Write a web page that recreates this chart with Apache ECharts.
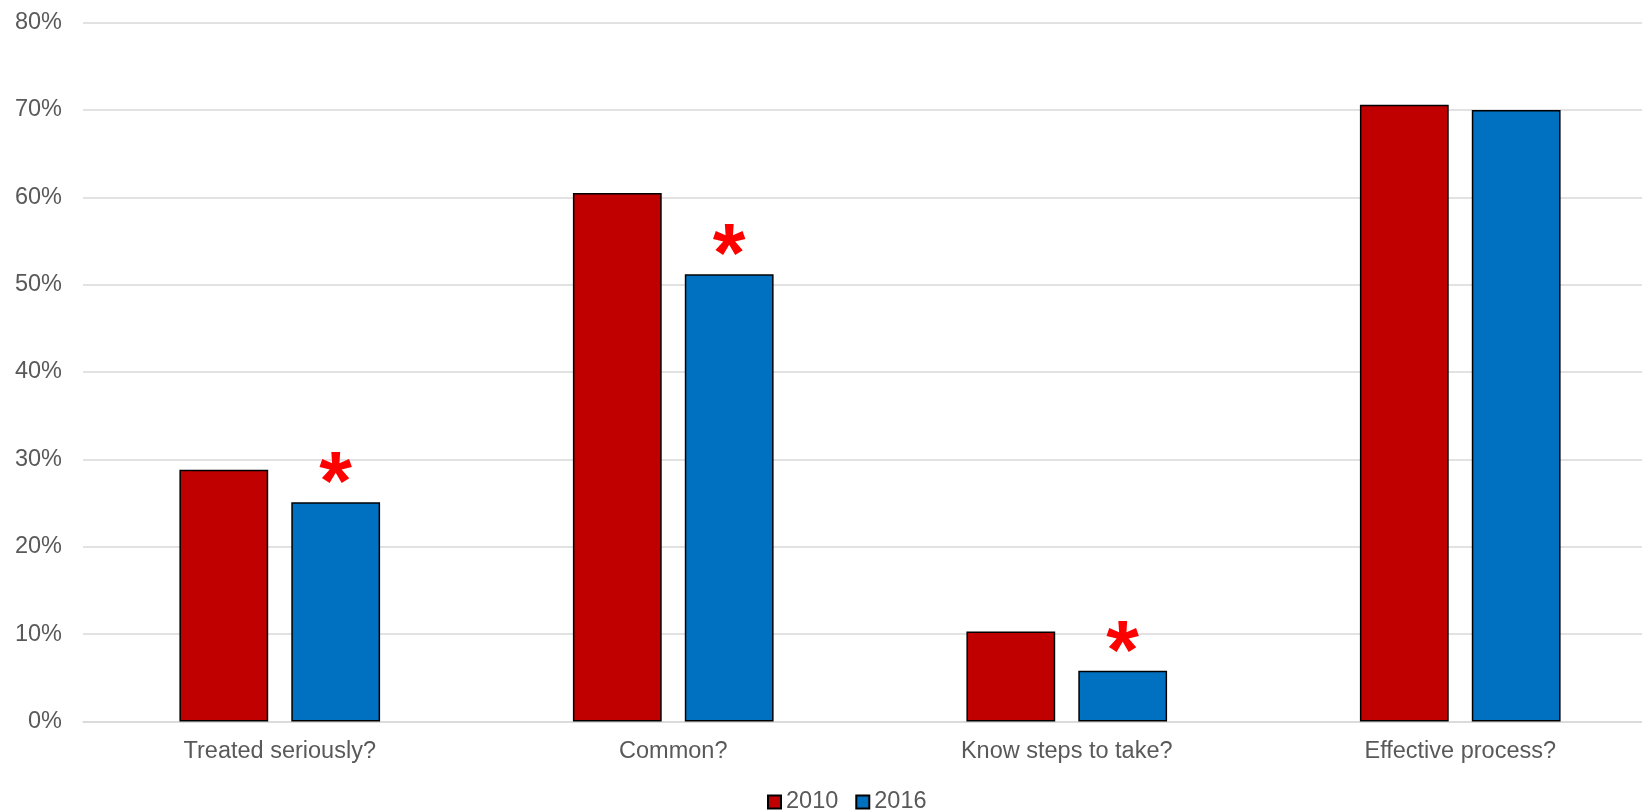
<!DOCTYPE html>
<html>
<head>
<meta charset="utf-8">
<script src="https://cdn.jsdelivr.net/npm/echarts@6/dist/echarts.min.js"></script>
<style>
  html, body { margin: 0; padding: 0; background: #ffffff; }
  #chart { width: 1642px; height: 812px; }
</style>
</head>
<body>
<div id="chart"></div>
<script>
const categories = ['Treated seriously?', 'Common?', 'Know steps to take?', 'Effective process?'];
const seriesNames = ['2010', '2016'];
const values2010 = [28.8, 60.5, 10.3, 70.6];
const values2016 = [25.1, 51.2, 5.8, 70.0];
const significant2016 = [true, true, true, false];
const yMin = 0;
const yMax = 80;
const yInterval = 10;

const FONT = '"Liberation Sans", Arial, sans-serif';
const TEXT_COLOR = '#595959';

const chart = echarts.init(document.getElementById('chart'), null, { renderer: 'canvas' });
chart.setOption({
  animation: false,
  backgroundColor: '#ffffff',
  textStyle: { fontFamily: FONT },
  grid: { left: 83, width: 1574, top: 22.5, height: 699, containLabel: false, outerBoundsMode: 'none' },
  legend: {
    data: seriesNames,
    left: 767,
    top: 790,
    padding: 0,
    icon: 'rect',
    itemWidth: 13,
    itemHeight: 13,
    itemGap: 17,
    textStyle: { fontFamily: FONT, fontSize: 23.5, color: TEXT_COLOR }
  },
  xAxis: {
    type: 'category',
    data: categories,
    axisLine: { show: true, lineStyle: { color: '#d9d9d9', width: 1.5 } },
    axisTick: { show: false },
    axisLabel: { fontFamily: FONT, fontSize: 23.5, color: TEXT_COLOR, margin: 18, interval: 0 }
  },
  yAxis: {
    type: 'value',
    min: yMin,
    max: yMax,
    interval: yInterval,
    axisLine: { show: false },
    axisTick: { show: false },
    splitLine: { show: true, lineStyle: { color: '#d9d9d9', width: 1.5 } },
    axisLabel: { fontFamily: FONT, fontSize: 23.5, color: TEXT_COLOR, margin: 21, formatter: v => v + '%' }
  },
  series: [
    {
      name: seriesNames[0],
      type: 'bar',
      data: values2010,
      barGap: '26%',
      barCategoryGap: '49%',
      itemStyle: { color: '#C00000', borderColor: '#000000', borderWidth: 1.5 }
    },
    {
      name: seriesNames[1],
      type: 'bar',
      data: values2016,
      barGap: '26%',
      barCategoryGap: '49%',
      itemStyle: { color: '#0070C0', borderColor: '#000000', borderWidth: 1.5 },
      label: {
        show: true,
        position: 'top',
        distance: -27,
        fontFamily: FONT,
        fontSize: 84,
        fontWeight: 'bold',
        color: '#FF0000',
        formatter: p => significant2016[p.dataIndex] ? '*' : ''
      }
    }
  ]
});
</script>
</body>
</html>
